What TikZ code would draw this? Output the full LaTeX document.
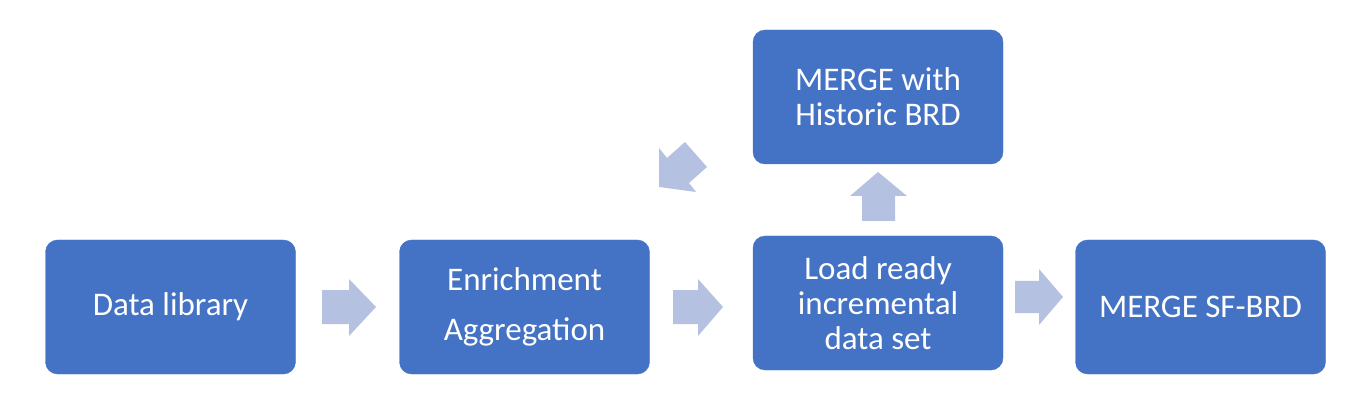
\documentclass[tikz,border=0pt]{standalone}
\usepackage{fontspec}
\setmainfont{Carlito}
\definecolor{boxblue}{HTML}{4472C4}
\definecolor{arrowblue}{HTML}{B4C1E1}
\begin{document}
\begin{tikzpicture}[x=1pt,y=-1pt,
  procbox/.style={rectangle, rounded corners=12pt, fill=boxblue, draw=boxblue,
    minimum width=250pt, minimum height=134pt, inner sep=0pt,
    text=white, align=center, font=\fontsize{33}{35}\selectfont},
  blockarrow/.style={fill=arrowblue}]
\useasboundingbox (0,0) rectangle (1366,414);
\node[procbox] (lib) at (170.5,307) {Data library};
\node[procbox] (enr) at (524.5,307) {Enrichment\\[15pt]Aggregation};
\node[procbox] (load) at (878,303) {Load ready\\incremental\\data set};
\node[procbox] (sf) at (1200.5,307) {MERGE SF-BRD};
\node[procbox] (hist) at (878,97) {MERGE with\\Historic BRD};
% right arrows
\fill[blockarrow] (322,290) -- (349,290) -- (349,279) -- (376,307) -- (349,336) -- (349,324) -- (322,324) -- cycle;
\fill[blockarrow] (673,290) -- (698,290) -- (698,279) -- (723,307) -- (698,336) -- (698,324) -- (673,324) -- cycle;
\fill[blockarrow] (1015,281) -- (1039,281) -- (1039,269) -- (1063,297) -- (1039,325) -- (1039,313) -- (1015,313) -- cycle;
% up arrow
\fill[blockarrow] (862,221) -- (862,196) -- (850,196) -- (878,172) -- (907,196) -- (895,196) -- (895,221) -- cycle;
% diagonal arrow
\fill[blockarrow] (659,187) -- (659,148) -- (667,158) -- (685,142) -- (707,167) -- (689,183) -- (696,192) -- cycle;
\end{tikzpicture}
\end{document}
